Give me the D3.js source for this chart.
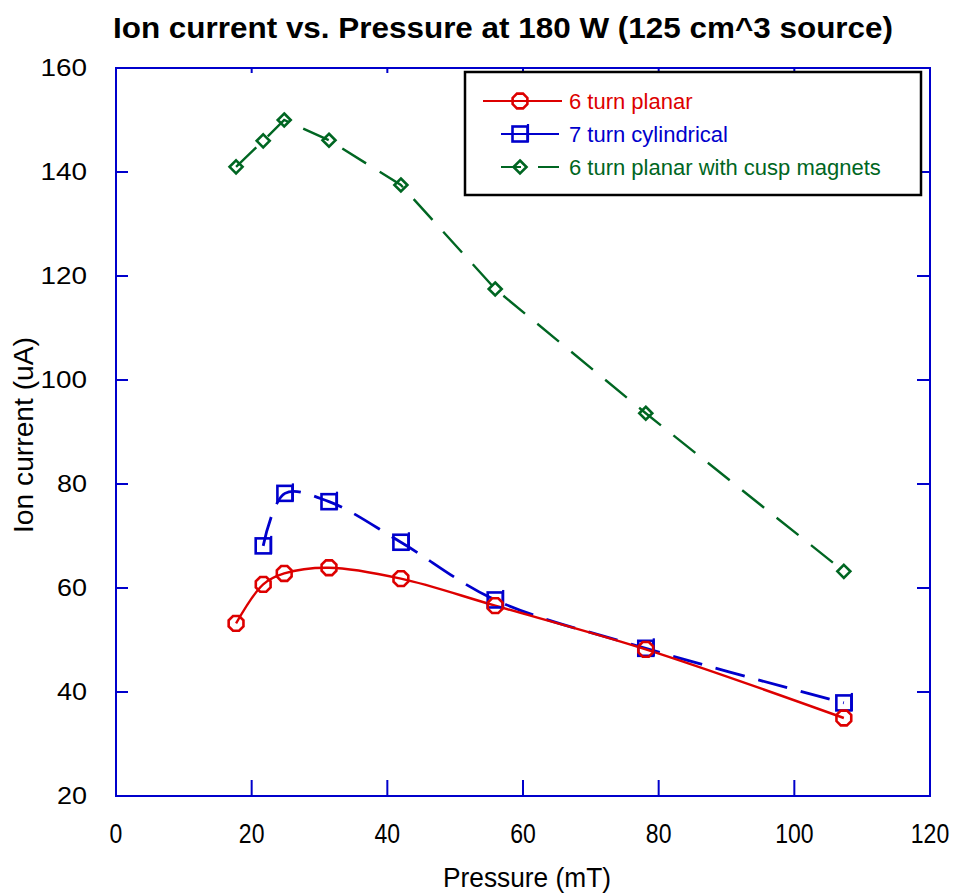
<!DOCTYPE html>
<html><head><meta charset="utf-8">
<script src="https://cdn.jsdelivr.net/npm/d3@7"></script>
<style>body{margin:0;background:#fff}</style>
</head><body>
<svg id="c" width="955" height="896"></svg>
<script>
const pressurePlanar = [17.7, 21.7, 24.8, 31.4, 42.0, 55.9, 78.1, 107.3];
const currentPlanar = [53.2, 60.7, 62.8, 63.9, 61.8, 56.6, 48.2, 35.0];
const pressureCyl = [21.7, 24.9, 31.4, 42.0, 55.9, 78.1, 107.3];
const currentCyl = [68.1, 78.2, 76.6, 68.8, 57.7, 48.4, 37.9];
const pressureCusp = [17.7, 21.7, 24.8, 31.4, 42.0, 55.9, 78.1, 107.3];
const currentCusp = [141.0, 146.0, 150.0, 146.1, 137.5, 117.5, 93.6, 63.2];
const xTicks = [0, 20, 40, 60, 80, 100, 120];
const yTicks = [20, 40, 60, 80, 100, 120, 140, 160];
const seriesNames = ["6 turn planar", "7 turn cylindrical", "6 turn planar with cusp magnets"];

const svg = d3.select("#c");
const L = 116, R = 930, T = 68, B = 796;
const x = d3.scaleLinear().domain([0,120]).range([L,R]);
const y = d3.scaleLinear().domain([20,160]).range([B,T]);
const axisCol = "#0000cc";
const FF = "'Liberation Sans', Arial, sans-serif";

// frame
svg.append("rect").attr("x",L).attr("y",T).attr("width",R-L).attr("height",B-T)
  .attr("fill","none").attr("stroke",axisCol).attr("stroke-width",2);

// ticks
xTicks.slice(1,-1).forEach(v=>{
  svg.append("line").attr("x1",x(v)).attr("x2",x(v)).attr("y1",B).attr("y2",B-16).attr("stroke",axisCol).attr("stroke-width",2);
  svg.append("line").attr("x1",x(v)).attr("x2",x(v)).attr("y1",T).attr("y2",T+5).attr("stroke",axisCol).attr("stroke-width",2);
});
yTicks.slice(1,-1).forEach(v=>{
  svg.append("line").attr("x1",L).attr("x2",L+12).attr("y1",y(v)).attr("y2",y(v)).attr("stroke",axisCol).attr("stroke-width",2);
  svg.append("line").attr("x1",R).attr("x2",R-13).attr("y1",y(v)).attr("y2",y(v)).attr("stroke",axisCol).attr("stroke-width",2);
});

// x tick labels (condensed)
xTicks.forEach(v=>{
  const s = String(v);
  svg.append("text").attr("x",x(v) - s.length*6.4).attr("y",843)
    .attr("font-family",FF).attr("font-size",27).attr("fill","#000")
    .attr("textLength", s.length*12.8).attr("lengthAdjust","spacingAndGlyphs").text(s);
});
// y tick labels (wide)
yTicks.forEach(v=>{
  const s = String(v);
  svg.append("text").attr("x",90 - s.length*16.5).attr("y",y(v)+8)
    .attr("font-family",FF).attr("font-size",23).attr("fill","#000")
    .attr("textLength", s.length*16.5 - 3).attr("lengthAdjust","spacingAndGlyphs").text(s);
});

// axis titles
svg.append("text").attr("x",443).attr("y",887)
  .attr("font-family",FF).attr("font-size",27)
  .attr("textLength",168).attr("lengthAdjust","spacingAndGlyphs").text("Pressure (mT)");
svg.append("text").attr("transform","translate(33,533) rotate(-90)")
  .attr("font-family",FF).attr("font-size",27)
  .attr("textLength",196).attr("lengthAdjust","spacingAndGlyphs").text("Ion current  (uA)");
svg.append("text").attr("x",113).attr("y",38)
  .attr("font-family",FF).attr("font-weight","bold")
  .attr("font-size",29).attr("textLength",780).attr("lengthAdjust","spacingAndGlyphs")
  .text("Ion current vs. Pressure at 180 W (125 cm^3 source)");

const red = "#dd0000", blue = "#0000cc", green = "#006622";

function pts(xs, ys){ return xs.map((d,i)=>[d, ys[i]]); }
const dPlanar = pts(pressurePlanar, currentPlanar);
const dCyl = pts(pressureCyl, currentCyl);
const dCusp = pts(pressureCusp, currentCusp);

const lineSmooth = d3.line().x(d=>x(d[0])).y(d=>y(d[1])).curve(d3.curveCatmullRom.alpha(0.5));
const lineLin = d3.line().x(d=>x(d[0])).y(d=>y(d[1]));

svg.append("path").attr("d",lineLin(dCusp)).attr("fill","none").attr("stroke",green)
  .attr("stroke-width",2.4).attr("stroke-dasharray","28,16");
svg.append("path").attr("d",lineSmooth(dCyl)).attr("fill","none").attr("stroke",blue)
  .attr("stroke-width",2.8).attr("stroke-dasharray","30,14");
svg.append("path").attr("d",lineSmooth(dPlanar)).attr("fill","none").attr("stroke",red)
  .attr("stroke-width",2.4);

function octagon(cx, cy, r){
  const p=[]; for(let i=0;i<8;i++){const a=Math.PI/8+i*Math.PI/4; p.push([cx+r*Math.cos(a), cy+r*Math.sin(a)]);}
  return "M"+p.map(q=>q.join(",")).join("L")+"Z";
}
function marker(g, kind, cx, cy, col){
  if(kind==="oct"){
    g.append("path").attr("d",octagon(cx,cy,8)).attr("fill","none").attr("stroke",col).attr("stroke-width",2.6);
  } else if(kind==="sq"){
    g.append("rect").attr("x",cx-7.5).attr("y",cy-7.5).attr("width",15).attr("height",15)
      .attr("fill","none").attr("stroke",col).attr("stroke-width",2.6);
    g.append("line").attr("x1",cx+8).attr("x2",cx+8).attr("y1",cy-10).attr("y2",cy+8).attr("stroke",col).attr("stroke-width",2.2);
  } else {
    g.append("path").attr("d",`M${cx},${cy-6.5}L${cx+6.5},${cy}L${cx},${cy+6.5}L${cx-6.5},${cy}Z`)
      .attr("fill","none").attr("stroke",col).attr("stroke-width",2.6);
  }
}
dCusp.forEach(d=>marker(svg,"dia",x(d[0]),y(d[1]),green));
dCyl.forEach(d=>marker(svg,"sq",x(d[0]),y(d[1]),blue));
dPlanar.forEach(d=>marker(svg,"oct",x(d[0]),y(d[1]),red));

// legend
const lg = svg.append("g");
lg.append("rect").attr("x",465).attr("y",72).attr("width",456).attr("height",123)
  .attr("fill","#fff").attr("stroke","#000").attr("stroke-width",2.5);
const rows = [101,134,167];
const cols = [red, blue, green];
const kinds = ["oct","sq","dia"];
rows.forEach((ry,i)=>{
  if(i===0){
    lg.append("line").attr("x1",483).attr("x2",562).attr("y1",ry).attr("y2",ry).attr("stroke",red).attr("stroke-width",2);
  } else if(i===1){
    lg.append("line").attr("x1",501).attr("x2",559).attr("y1",ry).attr("y2",ry).attr("stroke",blue).attr("stroke-width",2);
  } else {
    lg.append("line").attr("x1",501).attr("x2",521).attr("y1",ry).attr("y2",ry).attr("stroke",green).attr("stroke-width",2);
    lg.append("line").attr("x1",538).attr("x2",559).attr("y1",ry).attr("y2",ry).attr("stroke",green).attr("stroke-width",2);
  }
  marker(lg, kinds[i], 520, ry, cols[i]);
  lg.append("text").attr("x",569).attr("y",ry+8).attr("font-family",FF)
    .attr("font-size",22).attr("fill",cols[i]).text(seriesNames[i]);
});
</script>
</body></html>
